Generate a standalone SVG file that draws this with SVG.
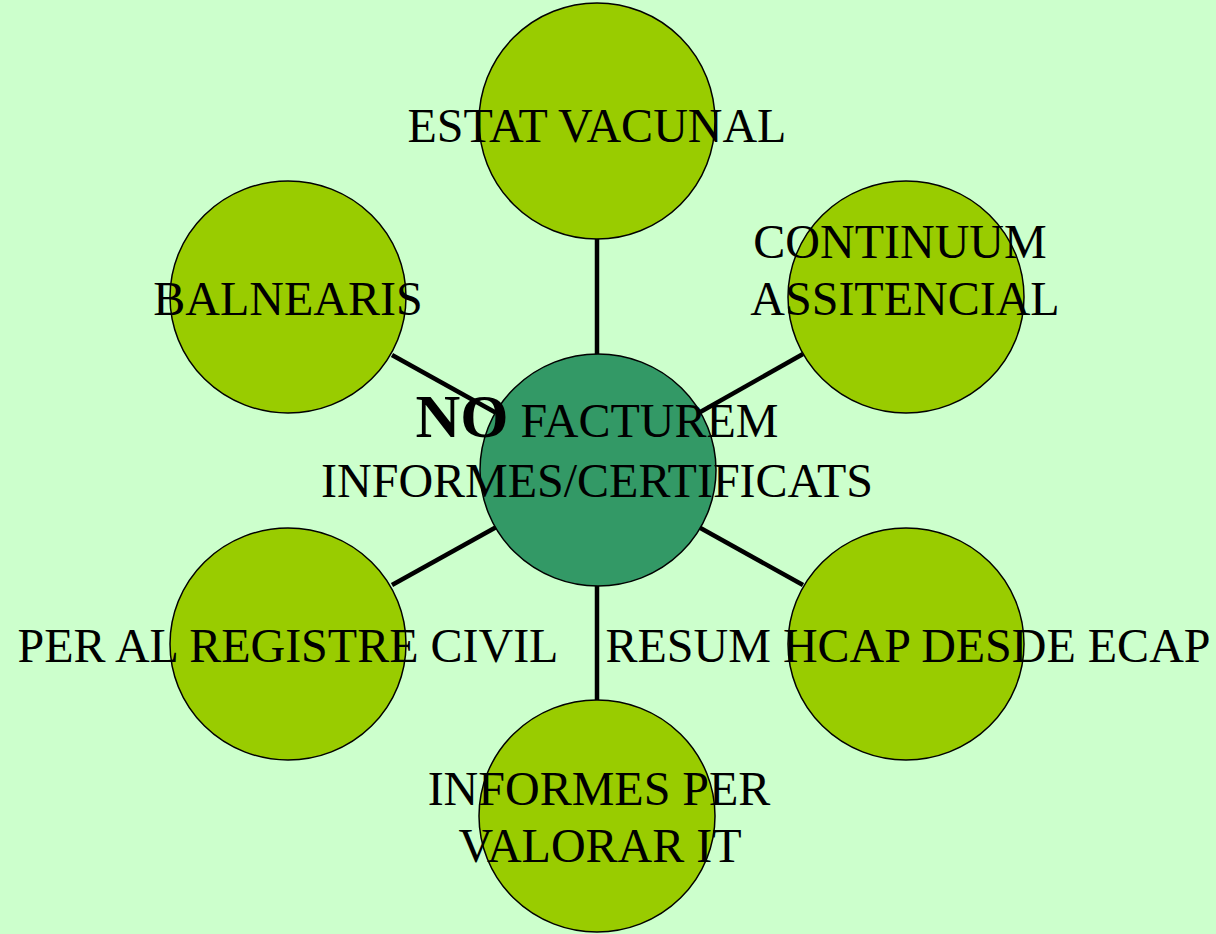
<svg xmlns="http://www.w3.org/2000/svg" width="1216" height="934" viewBox="0 0 1216 934">
<style>
.leaf{fill:#99CC00;stroke:#000;stroke-width:1.5}
.hub{fill:#339966;stroke:#000;stroke-width:1.5}
.t{font-family:"Liberation Serif","Times New Roman",serif;font-size:48px;fill:#000;text-anchor:middle}
.b{font-weight:bold;font-size:62px}
.c{stroke:#000;stroke-width:4.5;fill:none}
</style>
<rect width="1216" height="934" fill="#CCFFCC"/>
<g id="connectors">
<line class="c" x1="597" y1="239" x2="597" y2="360"/>
<line class="c" x1="597" y1="580" x2="597" y2="700"/>
<line class="c" x1="392" y1="355" x2="500" y2="415"/>
<line class="c" x1="803" y1="354" x2="695" y2="415"/>
<line class="c" x1="392" y1="585" x2="500" y2="525"/>
<line class="c" x1="803" y1="585" x2="695" y2="525"/>
</g>
<g id="hub"><ellipse class="hub" cx="598" cy="470" rx="118" ry="116"/></g>
<g id="n-estat"><ellipse class="leaf" cx="597" cy="121" rx="118" ry="118"/></g>
<g id="n-continuum"><ellipse class="leaf" cx="906" cy="297" rx="118" ry="116"/></g>
<g id="n-balnearis"><ellipse class="leaf" cx="288" cy="297" rx="118" ry="116"/></g>
<g id="n-registre"><ellipse class="leaf" cx="288" cy="644" rx="118" ry="116"/></g>
<g id="n-resum"><ellipse class="leaf" cx="906" cy="644" rx="118" ry="116"/></g>
<g id="n-informes"><ellipse class="leaf" cx="597" cy="816" rx="118" ry="116"/></g>
<g id="labels">
<text class="t" x="597" y="142">ESTAT VACUNAL</text>
<text class="t" x="900" y="258">CONTINUUM</text>
<text class="t" x="905" y="315">ASSITENCIAL</text>
<text class="t" x="288" y="315">BALNEARIS</text>
<text class="t" x="597" y="437"><tspan class="b">NO</tspan> FACTUREM</text>
<text class="t" x="597" y="497">INFORMES/CERTIFICATS</text>
<text class="t" x="288" y="662">PER AL REGISTRE CIVIL</text>
<text class="t" x="908" y="662">RESUM HCAP DESDE ECAP</text>
<text class="t" x="599" y="805">INFORMES PER</text>
<text class="t" x="600" y="862">VALORAR IT</text>
</g>
</svg>
